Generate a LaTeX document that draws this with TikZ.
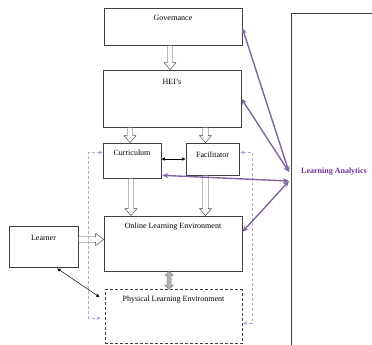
\documentclass[tikz,border=0pt]{standalone}
\usepackage{fontspec}
\setmainfont{Liberation Serif}
\usetikzlibrary{arrows.meta,calc}
\definecolor{lapurple}{HTML}{8064A2}
\definecolor{latext}{HTML}{7030A0}
\definecolor{lav}{HTML}{B4A7D6}
\definecolor{boxgray}{HTML}{404040}
\tikzset{
  x=1pt,y=-1pt,
  box/.style={draw=boxgray,line width=0.7pt,inner sep=0pt},
  lab/.style={anchor=north,inner sep=2pt,font=\fontsize{8}{9.6}\selectfont},
  hollow/.style={draw=boxgray,line width=0.45pt,fill=white},
  hdown/.style={to path={let \p1=(\tikztostart),\p2=(\tikztotarget) in
    (\x1-2.75pt,\y1) -- (\x1-2.75pt,\y2+7pt) -- (\x1-6pt,\y2+7pt) -- (\x1,\y2)
    -- (\x1+6pt,\y2+7pt) -- (\x1+2.75pt,\y2+7pt) -- (\x1+2.75pt,\y1) -- cycle}},
  hright/.style={to path={let \p1=(\tikztostart),\p2=(\tikztotarget) in
    (\x1,\y1-2.75pt) -- (\x2-8pt,\y1-2.75pt) -- (\x2-8pt,\y1-6pt) -- (\x2,\y1)
    -- (\x2-8pt,\y1+6pt) -- (\x2-8pt,\y1+2.75pt) -- (\x1,\y1+2.75pt) -- cycle}},
  hdouble/.style={to path={let \p1=(\tikztostart),\p2=(\tikztotarget) in
    (\x1,\y1) -- (\x1+4pt,\y1-4pt) -- (\x1+2pt,\y1-4pt) -- (\x1+2pt,\y2+4pt)
    -- (\x1+4pt,\y2+4pt) -- (\x1,\y2) -- (\x1-4pt,\y2+4pt) -- (\x1-2pt,\y2+4pt)
    -- (\x1-2pt,\y1-4pt) -- (\x1-4pt,\y1-4pt) -- cycle}},
  laarrow/.style={draw=lapurple,line width=1.4pt,
    {Stealth[length=6pt,width=5pt]}-{Stealth[length=6pt,width=5pt]}},
  lavdash/.style={draw=lav,line width=0.7pt,dash pattern=on 3pt off 2pt,
    {Stealth[length=4pt,width=4pt,fill=lav]}-{Stealth[length=4pt,width=4pt,fill=lav]}},
  thinarrow/.style={draw=black,line width=0.5pt,
    {Latex[length=3.5pt,width=3.5pt]}-{Latex[length=3.5pt,width=3.5pt]}}
}
\begin{document}
\begin{tikzpicture}
\useasboundingbox (0,0) rectangle (372,345);
% boxes
\node[box,minimum width=138pt,minimum height=37pt,label={[lab,yshift=-5pt]north:Governance}] (gov) at (173,26.5) {};
\node[box,minimum width=138pt,minimum height=57pt,label={[lab,yshift=-7pt]north:HEI's}] (hei) at (172,98.5) {};
\node[box,minimum width=58pt,minimum height=35pt,label={[lab,yshift=-5pt]north:Curriculum}] (cur) at (132,160.5) {};
\node[box,minimum width=53pt,minimum height=32pt,label={[lab,yshift=-7pt]north:Facilitator}] (fac) at (212.5,159) {};
\node[box,minimum width=138pt,minimum height=55pt,label={[lab,yshift=-5pt]north:Online Learning Environment}] (onl) at (173,243.5) {};
\node[box,minimum width=69pt,minimum height=41pt,label={[lab,yshift=-7pt]north:Learner}] (lea) at (43.5,246.5) {};
\node[box,dash pattern=on 3pt off 2pt,minimum width=137pt,minimum height=54pt,label={[lab,yshift=-5pt]north:Physical Learning Environment}] (phy) at (173.5,316.5) {};
% Learning analytics
\draw[draw=boxgray,line width=0.7pt] (372,13) -- (291,13) -- (291,345);
\node[font=\fontsize{8}{9.6}\selectfont\bfseries,text=latext,inner sep=1pt] (la) at (334,172) {Learning Analytics};
\coordinate (la1) at (289,172);
\coordinate (la2) at (289,181);
% hollow arrows
\draw[hollow] ([xshift=-3pt]gov.south) to[hdown] ([xshift=-2pt]hei.north);
\draw[hollow] ([xshift=-2pt]cur.north |- hei.south) to[hdown] ([xshift=-2pt]cur.north);
\draw[hollow] ([xshift=-7pt]fac.north |- hei.south) to[hdown] ([xshift=-7pt]fac.north);
\draw[hollow] ([xshift=-1pt]cur.south) to[hdown] ([xshift=-1pt]cur.south |- onl.north);
\draw[hollow] ([xshift=-7pt]fac.south) to[hdown] ([xshift=-7pt]fac.south |- onl.north);
\draw[hollow] ([yshift=7pt]lea.east) to[hright] ([yshift=7pt]lea.east -| onl.west);
\draw[draw=gray,fill=gray!60,line width=0.5pt] ([xshift=-4pt]onl.south) to[hdouble] ([xshift=-4pt]phy.north);
% thin black
\draw[thinarrow] (cur.east |- fac.east) -- (fac.west);
\draw[thinarrow] ([xshift=13.5pt,yshift=-1pt]lea.south) -- ([xshift=-5pt,yshift=-8pt]phy.north west);
% lavender dashed
\draw[lavdash] ([yshift=-10pt]cur.north west) -- ++(-14,0) |- ([xshift=-4pt,yshift=-29pt]phy.north west);
\draw[lavdash] ([yshift=-10pt,xshift=1pt]fac.north east) -- ++(12,0) |- ([xshift=1pt,yshift=-34pt]phy.north east);
% purple arrows
\draw[laarrow] ([yshift=-1.5pt]gov.east) -- (la1);
\draw[laarrow] (hei.east) -- (la1);
\draw[laarrow] ([xshift=1pt,yshift=3pt]cur.south east) -- (la2);
\draw[laarrow] ([yshift=11.5pt]onl.east) -- (la2);
\end{tikzpicture}
\end{document}
